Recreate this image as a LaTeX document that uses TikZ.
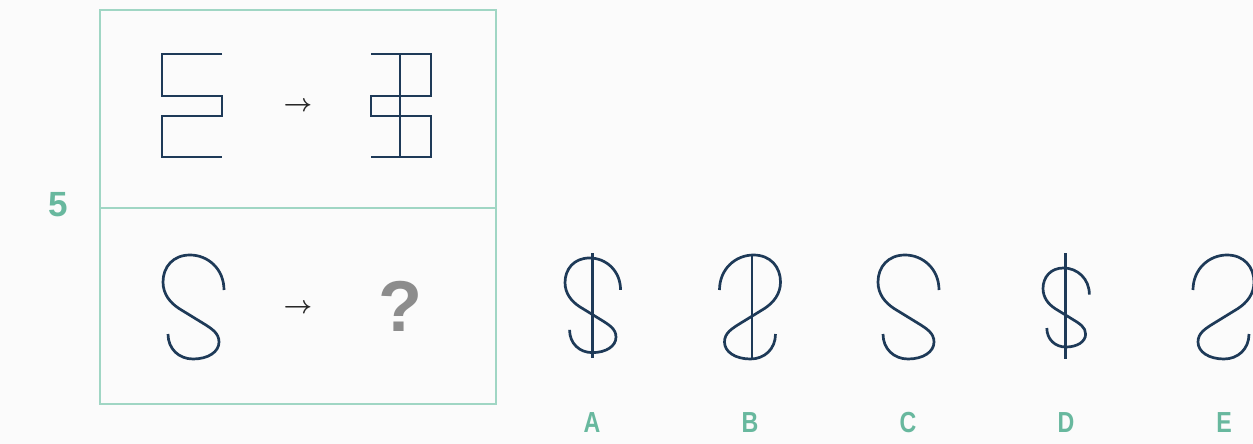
\documentclass[tikz,border=0pt]{standalone}
\usepackage{fontspec}
\setmainfont{Liberation Sans}
\definecolor{navy}{RGB}{30,58,88}
\definecolor{teal5}{RGB}{104,184,158}
\definecolor{boxline}{RGB}{160,214,196}
\definecolor{qgray}{RGB}{140,140,140}
\definecolor{bgc}{RGB}{251,251,251}
\definecolor{arrowc}{RGB}{40,40,40}
\tikzset{
  figline/.style={draw=navy, line width=2.7pt, line cap=butt, line join=miter},
  boxstyle/.style={draw=boxline, line width=1.5pt},
  optlabel/.style={text=teal5, inner sep=0pt, font=\bfseries\fontsize{29}{29}\selectfont},
  arrowlabel/.style={text=arrowc, inner sep=0pt, font=\fontsize{28}{28}\selectfont\boldmath},
  spic/.pic={
    \draw[figline, yscale=-1] (33,17) .. controls (33,38) and (17,52) .. (-1,52)
      .. controls (-18,52) and (-28,40) .. (-28,25)
      .. controls (-28,13) and (-21,4.4) .. (-12,-1.5)
      -- (10,-15)
      .. controls (21,-21.7) and (28,-26) .. (28,-35)
      .. controls (28,-45) and (17,-52) .. (2,-52)
      .. controls (-12,-52) and (-23,-42) .. (-23,-27);
  }
}
\begin{document}
\begin{tikzpicture}[x=1pt, y=-1pt]
\fill[bgc] (0,0) rectangle (1253,444);
\useasboundingbox (0,0) rectangle (1253,444);

% frame
\draw[boxstyle] (100,10) rectangle (496,404);
\draw[boxstyle] (100,208) -- (496,208);

% question number
\node[text=teal5, inner sep=0pt, font=\bfseries\fontsize{35}{35}\selectfont] (num) at (58,204.5) {5};

% top row: E shape
\draw[figline] (222,54) -- (162,54) -- (162,96) -- (222,96) -- (222,116) -- (162,116) -- (162,157) -- (222,157);
\node[arrowlabel] (arr1) at (298,107) {$\rightarrow$};
% mirrored E with central bar
\draw[figline] (371,54) -- (431,54) -- (431,96) -- (371,96) -- (371,116) -- (431,116) -- (431,157) -- (371,157);
\draw[figline] (400,54) -- (400,157);

% bottom row
\pic at (191,307) {spic};
\node[arrowlabel] (arr2) at (298,309) {$\rightarrow$};
\node[text=qgray, inner sep=0pt, font=\bfseries\fontsize{72}{72}\selectfont] (q) at (400,306) {?};

% options
% A
\pic[scale=0.91] at (590.5,305.3) {spic};
\draw[figline] (592.5,253) -- (592.5,358);
% B
\pic[xscale=-1] at (752.5,307) {spic};
\draw[figline] (752,255) -- (752,359);
% C
\pic at (906,307) {spic};
% D
\pic[scale=0.76] at (1064.3,307.5) {spic};
\draw[figline] (1065.5,253) -- (1065.5,359);
% E
\pic[xscale=-1] at (1226,307) {spic};

% labels
\node[optlabel] (la) at (592,423) {\scalebox{0.8}[1]{A}};
\node[optlabel] (lb) at (750,423) {\scalebox{0.8}[1]{B}};
\node[optlabel] (lc) at (908,423) {\scalebox{0.8}[1]{C}};
\node[optlabel] (ld) at (1066,423) {\scalebox{0.8}[1]{D}};
\node[optlabel] (le) at (1224,423) {\scalebox{0.8}[1]{E}};
\end{tikzpicture}
\end{document}
